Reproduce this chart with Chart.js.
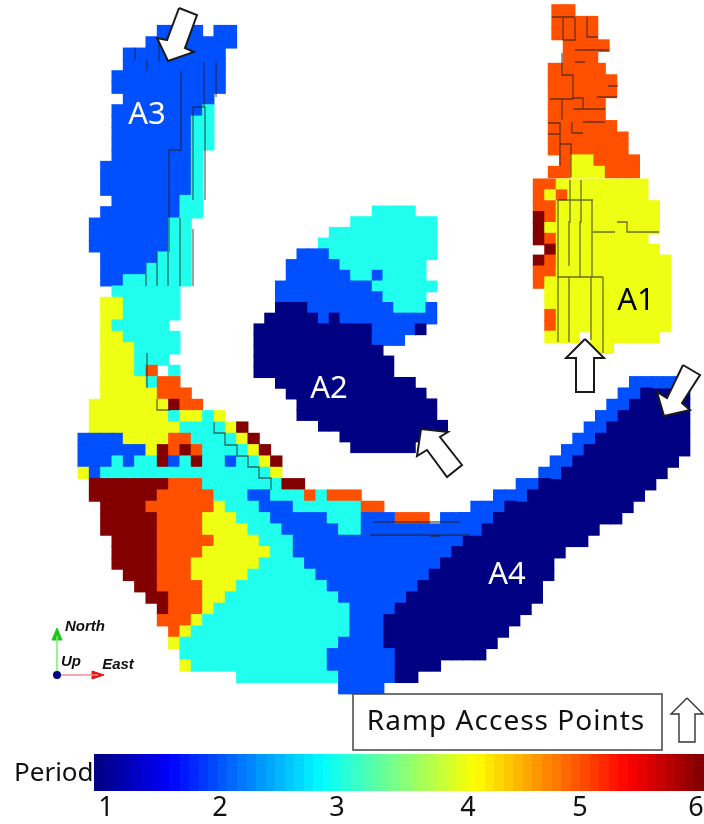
<!DOCTYPE html>
<html>
<head>
<meta charset="utf-8">
<script src="https://cdn.jsdelivr.net/npm/chart.js@4/dist/chart.umd.js"></script>
<style>
html, body { margin: 0; padding: 0; background: #fff; }
canvas { display: block; }
</style>
</head>
<body>
<canvas id="chart" width="704" height="824"></canvas>
<script>
// every row is a flat list: first cell, last cell, period, first cell, last cell, period...
var mainRows = [
    [7,10,2, 12,13,2],
    [6,13,2],
    [4,12,2],
    [4,12,2],
    [3,12,2],
    [3,12,2],
    [4,11,2],
    [3,10,2, 11,11,3],
    [3,9,2, 10,11,3],
    [3,9,2, 10,11,3],
    [3,9,2, 10,11,3],
    [3,9,2, 10,10,3],
    [2,9,2, 10,10,3],
    [2,9,2, 10,10,3],
    [2,9,2, 10,10,3],
    [3,8,2, 9,10,3],
    [2,8,2, 9,10,3],
    [1,7,2, 8,9,3],
    [1,7,2, 8,9,3],
    [1,7,2, 8,9,3],
    [2,6,2, 7,9,3],
    [2,5,2, 6,9,3],
    [2,3,2, 4,9,3],
    [3,8,3],
    [2,3,4, 4,8,3],
    [2,3,4, 4,8,3],
    [2,2,4, 3,7,3],
    [2,3,4, 4,8,3],
    [2,4,4, 5,8,3],
    [2,4,4, 5,7,3],
    [2,4,4, 5,5,3, 6,6,5, 8,8,3],
    [2,5,4, 6,6,3, 7,8,5],
    [2,6,4, 7,9,5, 50,53,1],
    [1,7,4, 8,8,6, 9,10,5, 49,53,1],
    [1,7,4, 8,8,3, 9,10,4, 11,11,3, 12,12,4, 48,53,1],
    [1,8,4, 9,12,3, 13,13,4, 14,14,6, 47,53,1],
    [0,3,2, 4,7,4, 8,9,5, 10,13,3, 14,14,4, 15,15,6, 46,53,1],
    [0,5,2, 6,6,4, 7,7,6, 8,8,5, 9,9,6, 10,10,5, 11,14,3, 15,15,4, 16,16,6, 45,53,1],
    [0,2,2, 3,3,3, 4,4,2, 5,6,3, 7,7,6, 8,8,2, 9,9,3, 10,10,6, 11,12,3, 13,13,2, 14,15,3, 16,16,4, 17,17,6, 44,52,1],
    [0,0,4, 1,1,2, 2,16,3, 17,17,4, 43,51,1],
    [1,7,6, 8,10,5, 11,17,3, 18,19,6, 41,50,1],
    [1,6,6, 7,11,5, 12,14,3, 15,16,2, 17,19,3, 20,20,5, 21,21,3, 22,24,5, 40,49,1],
    [2,5,6, 6,11,5, 12,12,4, 13,15,3, 16,18,2, 19,24,3, 25,26,5, 38,48,1],
    [2,6,6, 7,10,5, 11,13,4, 14,16,3, 17,21,2, 22,24,3, 25,27,2, 28,30,5, 32,34,2, 37,47,1],
    [2,6,6, 7,10,5, 11,14,4, 15,17,3, 18,22,2, 23,24,3, 25,34,2, 36,45,1],
    [3,6,6, 7,11,5, 12,15,4, 16,18,3, 19,33,2, 34,44,1],
    [3,6,6, 7,10,5, 11,16,4, 17,18,3, 19,32,2, 33,42,1],
    [3,6,6, 7,9,5, 10,15,4, 16,19,3, 20,31,2, 32,41,1],
    [4,6,6, 7,9,5, 10,14,4, 15,20,3, 21,30,2, 31,41,1],
    [5,6,6, 7,10,5, 11,13,4, 14,21,3, 22,29,2, 30,40,1],
    [6,7,6, 8,10,5, 11,12,4, 13,22,3, 23,28,2, 29,40,1],
    [7,7,6, 8,10,5, 11,11,4, 12,23,3, 24,27,2, 28,39,1],
    [7,9,5, 10,10,4, 11,23,3, 24,26,2, 27,38,1],
    [8,8,5, 9,9,4, 10,23,3, 24,26,2, 27,37,1],
    [8,8,4, 9,22,3, 23,26,2, 27,36,1],
    [9,21,3, 22,27,2, 28,35,1],
    [9,9,4, 10,21,3, 22,27,2, 28,31,1],
    [14,22,3, 23,27,2, 28,29,1],
    [23,26,2]
];
var a4BandRows = [
    [49,53,2],
    [48,49,2, 50,50,1],
    [47,48,2, 49,49,1],
    [46,47,2, 48,48,1],
    [45,46,2, 47,47,1],
    [44,45,2, 46,46,1],
    [43,44,2, 45,45,1],
    [42,43,2, 44,44,1],
    [41,42,2, 43,43,1],
    [39,40,2, 41,41,1],
    [37,39,2, 40,40,1],
    [35,37,2, 38,38,1],
    [34,36,2, 37,37,1],
    [34,35,2, 36,36,1]
];
var a2Rows = [
    [11,14,3],
    [9,16,3],
    [7,16,3],
    [6,16,3],
    [4,6,2, 7,16,3],
    [3,7,2, 8,15,3],
    [3,8,2, 9,10,3, 11,11,2, 12,15,3],
    [2,10,2, 11,16,3],
    [2,11,2, 12,15,3],
    [2,4,1, 5,12,2, 13,15,3, 16,16,2],
    [1,5,1, 6,6,2, 7,7,1, 8,16,2],
    [0,10,1, 11,14,2, 15,15,1],
    [0,10,1, 11,13,2],
    [0,11,1],
    [0,12,1],
    [0,12,1],
    [2,14,1],
    [3,15,1],
    [4,16,1],
    [4,16,1],
    [6,17,1],
    [8,15,1],
    [9,14,1]
];
var a1TopRows = [
    [0,1,5],
    [0,3,5],
    [0,3,5],
    [1,4,5],
    [1,3,5]
];
var a1MidRows = [
    [0,4,5],
    [0,5,5],
    [0,5,5],
    [0,4,5],
    [0,4,5],
    [0,5,5],
    [0,6,5],
    [0,6,5],
    [1,1,5, 2,3,4, 4,7,5],
    [0,1,5, 2,4,4, 5,7,5]
];
var a1LowRows = [
    [0,1,5, 2,9,4],
    [0,0,5, 1,1,4, 2,2,5, 3,9,4],
    [0,1,5, 2,10,4],
    [0,0,6, 1,1,5, 2,10,4],
    [0,0,6, 1,10,4],
    [0,0,6, 1,1,5, 2,9,4],
    [1,1,6, 2,10,4],
    [0,0,6, 1,1,5, 2,11,4],
    [0,1,5, 2,11,4],
    [0,0,5, 1,11,4],
    [1,11,4],
    [1,11,4],
    [1,1,5, 2,11,4],
    [1,1,5, 2,11,4],
    [1,3,4, 5,10,4],
    [5,6,4]
];

var periodColors = ["#000083", "#0050ff", "#20ffee", "#eeff14", "#ff5000", "#820000"];
var barTicks = ["1", "2", "3", "4", "5", "6"];
var barTickX = [106, 220, 337, 468, 580, 696];
var jetStops = [[0, "#00007f"], [0.125, "#0000ff"], [0.375, "#00ffff"], [0.625, "#ffff00"], [0.875, "#ff0000"], [1, "#7f0000"]];

// seams between mining levels, null breaks the line
var seams = [
    [558,200],[558,342],null, [569,277],[569,342],null, [570,180],[570,222],[569,222],[569,266],null,
    [581,180],[581,222],[580,222],[580,277],null, [592,200],[592,277],null, [591,277],[591,340],null,
    [603,277],[603,353],null, [558,200],[593,200],null, [593,232],[615,232],null, [617,222],[627,222],[627,232],[659,232],null,
    [557,277],[603,277],null,
    [552,17],[575,17],null, [563,18],[563,40],null, [575,18],[575,40],[563,40],null, [587,17],[587,37],[598,37],null,
    [575,50],[609,50],null, [575,62],[585,62],null, [562,53],[562,75],[573,75],[573,99],[550,99],null, [573,98],[583,98],[583,108],null,
    [573,109],[605,109],null, [562,99],[562,120],null, [597,97],[617,97],null, [608,86],[618,86],null, [583,122],[605,122],null,
    [572,122],[572,133],[583,133],null, [548,123],[560,123],[560,166],null, [548,134],[560,134],null, [560,144],[571,144],[571,177],null,
    [181,71],[181,150],[169,150],[169,252],null, [204,62],[204,107],null, [216,62],[216,97],null,
    [193,107],[193,200],null, [193,107],[205,107],[205,200],null, [135,48],[135,60],null, [147,60],[147,71],null, [159,38],[159,62],null,
    [157,252],[157,286],null, [146,263],[146,286],null, [168,252],[168,286],null, [180,218],[180,286],null, [193,229],[193,286],null,
    [214,422],[214,433],[225,433],[225,445],[237,445],[237,456],[248,456],[248,467],[259,467],[259,478],[271,478],[271,490],null,
    [147,353],[147,388],null, [157,399],[157,410],[170,410],null,
    [373,522],[460,522],null, [370,535],[470,535],null, [430,536],[440,536],null
];

var arrowA3 = [[179,8],[197,15],[185,48],[194,52],[168,61],[157,38],[167,40],[179,8]];
var arrowA2 = [[421,429],[448,432],[440,437],[462,465],[447,477],[427,450],[417,456],[421,429]];
var arrowA1 = [[585,339],[604,358],[594,358],[594,392],[576,392],[576,358],[566,358],[585,339]];
var arrowA4 = [[683,365],[700,375],[682,403],[690,410],[664,416],[657,392],[667,398],[683,365]];
var arrowKey = [[687,698],[703,714],[695,714],[695,742],[679,742],[679,714],[671,714],[687,698]];
var keyBox = [[353,694],[662,694],[662,750],[353,750],[353,694]];

var regionLabels = [
    ["A3", 147, 115, "#fff"],
    ["A2", 329, 389, "#fff"],
    ["A1", 636, 301, "#000"],
    ["A4", 507, 575, "#fff"]
];

var sections = [
    { rows: mainRows, x0: 78, y0: 25.4, stepX: 11.33, stepY: 11.33 },
    { rows: a4BandRows, x0: 74.3, y0: 376.6, stepX: 11.33, stepY: 11.33 },
    { rows: a2Rows, x0: 254, y0: 206, stepX: 10.75, stepY: 10.72 },
    { rows: a1TopRows, x0: 552, y0: 4.7, stepX: 11.4, stepY: 11.7 },
    { rows: a1MidRows, x0: 548.3, y0: 63.3, stepX: 11.4, stepY: 11.45 },
    { rows: a1LowRows, x0: 533.3, y0: 179.3, stepX: 11.47, stepY: 10.87 }
];

function cellDataset(s) {
    var pts = [], cols = [];
    s.rows.forEach(function(row, r) {
        for (let i = 0; i < row.length; i += 3) {
            for (let c = row[i]; c <= row[i + 1]; c++) {
                pts.push({ x: s.x0 + (c + 0.5) * s.stepX, y: s.y0 + (r + 0.5) * s.stepY });
                cols.push(periodColors[row[i + 2] - 1]);
            }
        }
    });
    return {
        data: pts,
        pointStyle: "rect",
        // a pixel of overlap so no pale seams show between the cells
        pointRadius: (Math.max(s.stepX, s.stepY) + 1) / Math.SQRT2,
        pointBackgroundColor: cols,
        pointBorderWidth: 0,
        showLine: false,
        order: 10
    };
}

function toPoints(list) {
    return list.map(function(p) {
        return p ? { x: p[0], y: p[1] } : { x: null, y: null };
    });
}

function outline(list, fillColor, lineColor, width) {
    return {
        data: toPoints(list),
        showLine: true,
        fill: fillColor ? "shape" : false,
        backgroundColor: fillColor || "transparent",
        borderColor: lineColor,
        borderWidth: width,
        pointRadius: 0,
        tension: 0,
        order: 2
    };
}

function jetColor(t) {
    for (let i = 1; i < jetStops.length; i++) {
        if (t <= jetStops[i][0]) {
            var a = jetStops[i - 1], b = jetStops[i];
            var k = (t - a[0]) / (b[0] - a[0]);
            var mix = [1, 3, 5].map(function(p) {
                var ca = parseInt(a[1].substr(p, 2), 16), cb = parseInt(b[1].substr(p, 2), 16);
                return Math.round(ca + (cb - ca) * k);
            });
            return "rgb(" + mix.join(",") + ")";
        }
    }
    return jetStops[jetStops.length - 1][1];
}

// colour bar, one thick line broken in 64 bands, band edges on whole pixels
var barLeft = 94, barRight = 704, barMid = 772.5, barBands = 64;
var barPoints = [];
for (let i = 0; i <= barBands; i++) {
    barPoints.push({ x: Math.round(barLeft + (barRight - barLeft) * i / barBands), y: barMid });
}
var barDataset = {
    data: barPoints,
    showLine: true,
    borderWidth: 37,
    borderCapStyle: "butt",
    pointRadius: 0,
    tension: 0,
    segment: {
        borderColor: function(ctx) { return jetColor((ctx.p0DataIndex + 0.5) / barBands); }
    },
    order: 5
};

var textPlugin = {
    id: "textPlugin",
    afterDraw: function(chart) {
        var c = chart.ctx, sx = chart.scales.x, sy = chart.scales.y;
        function put(text, x, y, font, color, align) {
            c.font = font;
            c.fillStyle = color;
            c.textAlign = align || "center";
            c.textBaseline = "middle";
            c.fillText(text, sx.getPixelForValue(x), sy.getPixelForValue(y));
        }
        c.save();
        regionLabels.forEach(function(l) { put(l[0], l[1], l[2], "31px 'Noto Sans'", l[3]); });
        c.letterSpacing = "1px";
        put("Ramp Access Points", 506, 722, "28px 'Noto Sans'", "#111");
        c.letterSpacing = "0px";
        put("Period", 14, 774, "26px 'Noto Sans'", "#111", "left");
        barTicks.forEach(function(t, i) { put(t, barTickX[i], 808, "27px 'Noto Sans'", "#111"); });
        put("North", 85, 627, "italic bold 15px 'Liberation Sans'", "#111");
        put("Up", 71, 662, "italic bold 15px 'Liberation Sans'", "#111");
        put("East", 118, 665, "italic bold 15px 'Liberation Sans'", "#111");
        c.restore();
    }
};

var ctx = document.getElementById("chart").getContext("2d");
var datasets = sections.map(cellDataset);
sections.forEach(function(s, i) { datasets[i].order = 20 - i; });
datasets.push(outline(seams, null, "rgba(30,30,30,0.65)", 1.3));
datasets[datasets.length - 1].spanGaps = false;
datasets[datasets.length - 1].order = 6;
datasets.push(barDataset);
[arrowA3, arrowA2, arrowA1, arrowA4].forEach(function(a) {
    datasets.push(outline(a, "#fff", "#1a1a1a", 2));
});
datasets.push(outline(arrowKey, "#fff", "#333", 1.4));
datasets.push(outline(keyBox, "#fff", "#444", 1.5));
// little compass at the lower left
datasets.push(outline([[57,675],[57,636]], null, "#7de87d", 1.5));
datasets.push(outline([[57,675],[98,675]], null, "#f58c8c", 1.5));
datasets.push(outline([[52,640],[57,628],[62,640],[52,640]], "#19c819", "#19c819", 1));
datasets.push(outline([[92,671],[104,675],[92,679],[92,671]], "#e01818", "#e01818", 1));
datasets.push({
    data: [{ x: 57, y: 675 }],
    pointRadius: 4,
    pointBackgroundColor: "#000083",
    pointBorderWidth: 0,
    showLine: false,
    order: 1
});

new Chart(ctx, {
    type: "scatter",
    data: { datasets: datasets },
    options: {
        responsive: false,
        animation: false,
        layout: { padding: 0, autoPadding: false },
        plugins: { legend: { display: false }, tooltip: { enabled: false } },
        scales: {
            x: { type: "linear", min: 0, max: 704, display: false },
            y: { type: "linear", min: 0, max: 824, reverse: true, display: false }
        }
    },
    plugins: [textPlugin]
});
</script>
</body>
</html>
